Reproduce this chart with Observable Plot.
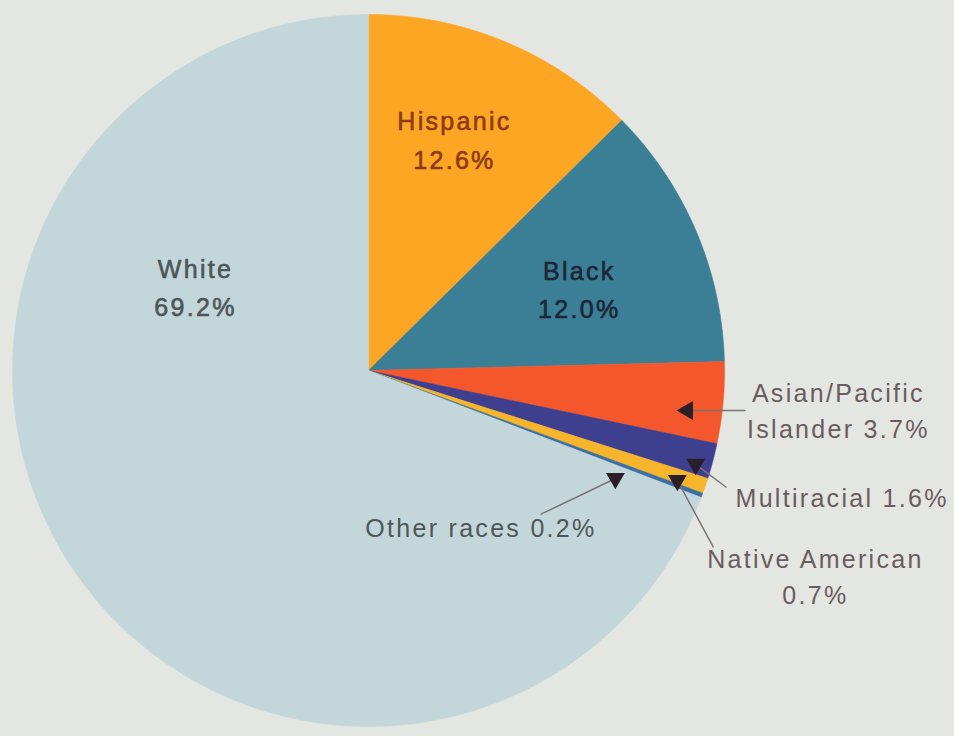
<!DOCTYPE html>
<html>
<head>
<meta charset="utf-8">
<script src="https://cdn.jsdelivr.net/npm/d3@7"></script>
<script src="https://cdn.jsdelivr.net/npm/@observablehq/plot@0.6"></script>
<style>
  html, body { margin: 0; padding: 0; background: #e4e6e2; }
  #chart { width: 954px; height: 736px; overflow: hidden; }
</style>
</head>
<body>
<div id="chart"></div>
<script>
// ---- data ----
const categories = ["Hispanic", "Black", "Asian/Pacific Islander", "Multiracial", "Native American", "Other races", "White"];
const shares = [12.6, 12.0, 3.7, 1.6, 0.7, 0.2, 69.2];
const labelNames = ["Hispanic\n", "Black\n", "Asian/Pacific\nIslander ", "Multiracial ", "Native American\n", "Other races ", "White\n"];

// ---- styles ----
const sliceColors = ["#fca624", "#3b7f97", "#f4572b", "#3e3f8e", "#f7b52c", "#3a6ea5", "#c3d6da"];
const labelColors = ["#8c3b17", "#1c2636", "#6a5c5e", "#6a5c5e", "#6a5c5e", "#4f5658", "#4d5557"];
const labelInside = [true, true, false, false, false, false, true];

// ---- layout (polar offsets relative to each slice's mid-angle, radius in units of R) ----
const labelAngleOffset = [-2.2, 2.1, -0.2, 0.34, 6.0, 34.0, 60.2];
const labelRadius = [0.690, 0.634, 1.325, 1.378, 1.384, 0.544, 0.539];
const arrowSlices = [2, 3, 4, 5];
const arrowHeadOffset = [1.93, 1.24, 0.7, 3.1];
const arrowHeadRadius = [0.903, 0.956, 0.921, 0.757];
const arrowTailOffset = [0.84, 3.34, 8.26, 19.4];
const arrowTailRadius = [1.065, 1.058, 1.089, 0.630];
const arrowHeadRotate = [-90, 180, 180, 180];

const W = 954, H = 736, cx = 368, cy = 370, R = 356;

const arcs = d3.pie().sort(null).value(d => d)(shares);
const deg = Math.PI / 180;
const polar = (theta, r) => ({x: r * Math.sin(theta), y: r * Math.cos(theta)});

// slice polygons
const slicePts = [];
arcs.forEach((a, k) => {
  slicePts.push({x: 0, y: 0, k});
  const n = Math.max(2, Math.ceil((a.endAngle - a.startAngle) / (0.4 * deg)));
  for (let j = 0; j <= n; j++) {
    const t = a.startAngle + (a.endAngle - a.startAngle) * j / n;
    slicePts.push({...polar(t, 1), k});
  }
  slicePts.push({x: 0, y: 0, k});
});

const mid = arcs.map(a => (a.startAngle + a.endAngle) / 2);

const labels = categories.map((c, i) => {
  const p = polar(mid[i] + labelAngleOffset[i] * deg, labelRadius[i]);
  return {...p, text: labelNames[i] + shares[i].toFixed(1) + "%", color: labelColors[i], inside: labelInside[i]};
});

const arrows = arrowSlices.map((s, j) => {
  const h = polar(mid[s] + arrowHeadOffset[j] * deg, arrowHeadRadius[j]);
  const t = polar(mid[s] + arrowTailOffset[j] * deg, arrowTailRadius[j]);
  return {x1: t.x, y1: t.y, x2: h.x, y2: h.y, rot: arrowHeadRotate[j]};
});

const chart = Plot.plot({
  width: W,
  height: H,
  margin: 0,
  x: {domain: [-cx / R, (W - cx) / R], axis: null},
  y: {domain: [(cy - H) / R, cy / R], axis: null},
  color: {type: "identity"},
  style: {background: "#e4e6e2", fontFamily: "'Liberation Sans', Arial, sans-serif", letterSpacing: "2.3px"},
  marks: [
    Plot.line(slicePts, {x: "x", y: "y", z: "k", fill: d => sliceColors[d.k], stroke: d => sliceColors[d.k], strokeWidth: 0.6, curve: "linear"}),
    Plot.link(arrows, {x1: "x1", y1: "y1", x2: "x2", y2: "y2", stroke: "#7d7274", strokeWidth: 1.5}),
    Plot.dot(arrows, {x: "x2", y: "y2", symbol: "triangle", r: 7, fill: "#2a1f29", stroke: "none", rotate: "rot"}),
    Plot.text(labels.filter(d => d.inside), {x: "x", y: "y", dy: -3, text: "text", fill: "color", stroke: "color", strokeWidth: 0.6, fontSize: 25, lineHeight: 1.54}),
    Plot.text(labels.filter(d => !d.inside), {x: "x", y: "y", dy: -3, text: "text", fill: "color", fontSize: 25, lineHeight: 1.44})
  ]
});
document.getElementById("chart").appendChild(chart);
</script>
</body>
</html>
